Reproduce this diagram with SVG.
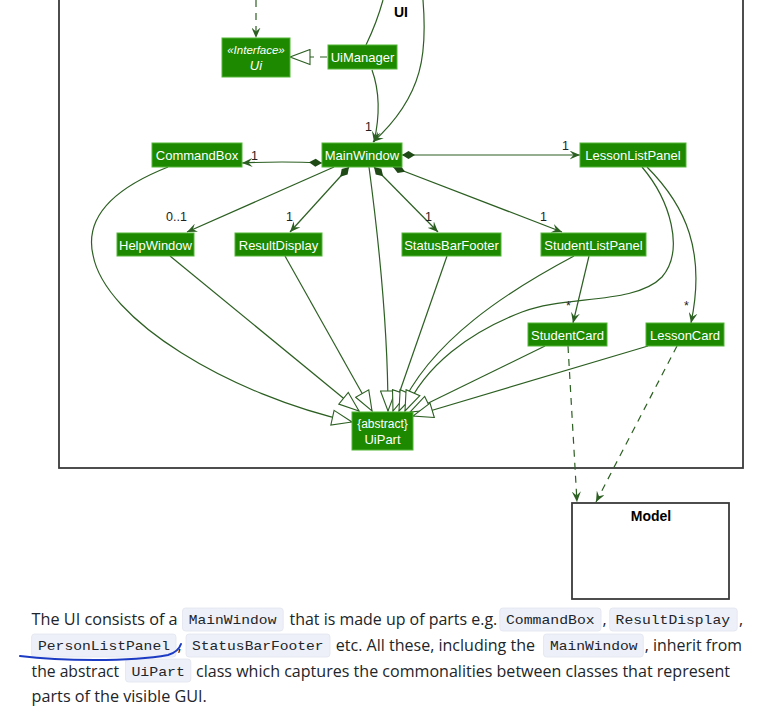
<svg xmlns="http://www.w3.org/2000/svg" width="763" height="715" viewBox="0 0 763 715">
<style>
.node rect{fill:#1D8900;stroke:#52b536;stroke-width:1}
.node text{fill:#ffffff;font-family:"Liberation Sans",Arial,sans-serif;font-size:13px;text-anchor:middle}
.ln{fill:none;stroke:#2c5f22;stroke-width:1.2}
.dash{stroke-dasharray:7,6}
.assoc{marker-end:url(#arr)}
.comp{marker-start:url(#dia);marker-end:url(#arr)}
.inh{marker-end:url(#tri)}
.lbl{fill:#222;font-family:"Liberation Sans",Arial,sans-serif;font-size:12.5px}
.pkg{fill:#fff;stroke:#3a3a3a;stroke-width:1.8}
.pkgname{fill:#000;font-family:"Liberation Sans",Arial,sans-serif;font-size:14px;font-weight:bold;text-anchor:middle}
.body{fill:#212529;font-family:"Open Sans","Liberation Sans",sans-serif;font-size:16px}
.code{fill:#212529;font-family:"Liberation Mono","DejaVu Sans Mono",monospace;font-size:13.5px}
.cbox{fill:#eef0f9;stroke:#e2e4ef;stroke-width:0.8}
</style>
<defs>
<marker id="arr" markerUnits="userSpaceOnUse" viewBox="0 0 11 9" refX="10.5" refY="4.5" markerWidth="11" markerHeight="9" orient="auto">
<path d="M0,0 L10.5,4.5 L0,9 L4,4.5 Z" fill="#2c5f22"/>
</marker>
<marker id="dia" markerUnits="userSpaceOnUse" viewBox="0 0 14 9" refX="0.5" refY="4.5" markerWidth="14" markerHeight="9" orient="auto">
<path d="M0.5,4.5 L7,0.5 L13.5,4.5 L7,8.5 Z" fill="#1f4a16"/>
</marker>
<marker id="tri" markerUnits="userSpaceOnUse" viewBox="-1 -1 22 17" refX="20" refY="7.5" markerWidth="22" markerHeight="17" orient="auto">
<path d="M0,0 L20,7.5 L0,15 Z" fill="#ffffff" stroke="#2c5f22" stroke-width="1.1"/>
</marker>
</defs>
<rect width="763" height="715" fill="#ffffff"/>

<!-- packages -->
<g id="pkg-ui">
<rect class="pkg" x="59" y="-20" width="684" height="488"/>
<text class="pkgname" x="401" y="17">UI</text>
</g>
<g id="pkg-model">
<rect class="pkg" x="572" y="503" width="157" height="96"/>
<text class="pkgname" x="651" y="521">Model</text>
</g>

<!-- connectors -->
<g id="connectors">
<path class="ln dash assoc" d="M256,0 L256,38"/>
<path class="ln" d="M383,0 Q377,22 366,45"/>
<path class="ln assoc" d="M423,0 C427,50 425,95 373,142"/>
<path class="ln assoc" d="M372,70 C381,95 379,120 374,142"/>
<path class="ln dash inh" d="M327,57 L290,57"/>

<path class="ln comp" d="M322,163 Q282,161 242,163"/>
<path class="ln comp" d="M402,155 L580,155"/>
<path class="ln assoc" d="M334,167 L187,232"/>
<path class="ln comp" d="M349,167 L290,232"/>
<path class="ln comp" d="M374,167 L438,232"/>
<path class="ln comp" d="M393,167 L562,232"/>

<path class="ln assoc" d="M589,256 L573,323"/>
<path class="ln assoc" d="M647,167 C686,206 706,252 691,323"/>

<path class="ln inh" d="M168,167 C110,190 85,220 93,255 C105,320 230,395 352,422"/>
<path class="ln inh" d="M170,256 L359,411"/>
<path class="ln inh" d="M285,256 L372,411"/>
<path class="ln inh" d="M369,167 C380,250 388,330 388,411"/>
<path class="ln inh" d="M447,256 L393,411"/>
<path class="ln inh" d="M574,256 C510,290 430,340 399,411"/>
<path class="ln inh" d="M642,167 C670,200 685,250 662,277 C635,305 565,295 522,312 C470,332 425,365 405,411"/>
<path class="ln inh" d="M545,346 L410,412"/>
<path class="ln inh" d="M648,346 L413,416"/>

<path class="ln dash assoc" d="M568,346 L577,502"/>
<path class="ln dash assoc" d="M677,346 L596,502"/>

<text class="lbl" x="365" y="131">1</text>
<text class="lbl" x="251" y="160">1</text>
<text class="lbl" x="562" y="150">1</text>
<text class="lbl" x="166" y="221">0..1</text>
<text class="lbl" x="286" y="221">1</text>
<text class="lbl" x="425" y="221">1</text>
<text class="lbl" x="540" y="221">1</text>
<text class="lbl" x="566" y="310">*</text>
<text class="lbl" x="684" y="310">*</text>
</g>

<!-- nodes -->
<g id="Ui" class="node">
<rect x="222" y="38" width="68" height="39"/>
<text x="256" y="54" font-style="italic" style="font-size:11.5px">«Interface»</text>
<text x="256" y="70" font-style="italic">Ui</text>
</g>
<g id="UiManager" class="node">
<rect x="328" y="45" width="69" height="24"/>
<text x="362.5" y="62">UiManager</text>
</g>
<g id="CommandBox" class="node">
<rect x="152" y="143" width="90" height="24"/>
<text x="197" y="160">CommandBox</text>
</g>
<g id="MainWindow" class="node">
<rect x="322" y="143" width="80" height="24"/>
<text x="362" y="160">MainWindow</text>
</g>
<g id="LessonListPanel" class="node">
<rect x="580" y="143" width="106" height="24"/>
<text x="633" y="160">LessonListPanel</text>
</g>
<g id="HelpWindow" class="node">
<rect x="117" y="233" width="77" height="23"/>
<text x="155.5" y="249.5">HelpWindow</text>
</g>
<g id="ResultDisplay" class="node">
<rect x="235" y="233" width="87" height="23"/>
<text x="278.5" y="249.5">ResultDisplay</text>
</g>
<g id="StatusBarFooter" class="node">
<rect x="402" y="233" width="99" height="23"/>
<text x="451.5" y="249.5">StatusBarFooter</text>
</g>
<g id="StudentListPanel" class="node">
<rect x="541" y="233" width="105" height="23"/>
<text x="593.5" y="249.5">StudentListPanel</text>
</g>
<g id="StudentCard" class="node">
<rect x="528" y="323" width="79" height="23"/>
<text x="567.5" y="339.5">StudentCard</text>
</g>
<g id="LessonCard" class="node">
<rect x="646" y="323" width="78" height="23"/>
<text x="685" y="339.5">LessonCard</text>
</g>
<g id="UiPart" class="node">
<rect x="352" y="412" width="61" height="38"/>
<text x="382.5" y="428" style="font-size:12px">{abstract}</text>
<text x="382.5" y="444">UiPart</text>
</g>

<!-- description text -->
<g id="description">
<rect class="cbox" x="182.5" y="608" width="100.7" height="23" rx="3"/>
<rect class="cbox" x="499.8" y="608" width="101.2" height="23" rx="3"/>
<rect class="cbox" x="609.7" y="608" width="127.5" height="23" rx="3"/>
<rect class="cbox" x="31.6" y="634" width="144.4" height="23" rx="3"/>
<rect class="cbox" x="186" y="634" width="144" height="23" rx="3"/>
<rect class="cbox" x="543.5" y="634" width="99.8" height="23" rx="3"/>
<rect class="cbox" x="125.5" y="659" width="65.3" height="23" rx="3"/>

<text class="body" x="31.6" y="625" textLength="146" lengthAdjust="spacingAndGlyphs">The UI consists of a</text>
<text class="code" x="188.8" y="624" textLength="87.6" lengthAdjust="spacingAndGlyphs">MainWindow</text>
<text class="body" x="289.5" y="625" textLength="207.8" lengthAdjust="spacingAndGlyphs">that is made up of parts e.g.</text>
<text class="code" x="506" y="624" textLength="88.7" lengthAdjust="spacingAndGlyphs">CommandBox</text>
<text class="body" x="602.5" y="625">,</text>
<text class="code" x="615.6" y="624" textLength="114.4" lengthAdjust="spacingAndGlyphs">ResultDisplay</text>
<text class="body" x="739" y="625">,</text>

<text class="code" x="38" y="650" textLength="132" lengthAdjust="spacingAndGlyphs">PersonListPanel</text>
<text class="body" x="177.5" y="651">,</text>
<text class="code" x="192" y="650" textLength="131.6" lengthAdjust="spacingAndGlyphs">StatusBarFooter</text>
<text class="body" x="335.8" y="651" textLength="199.2" lengthAdjust="spacingAndGlyphs">etc. All these, including the</text>
<text class="code" x="550" y="650" textLength="87.5" lengthAdjust="spacingAndGlyphs">MainWindow</text>
<text class="body" x="644.8" y="651" textLength="97.2" lengthAdjust="spacingAndGlyphs">, inherit from</text>

<text class="body" x="31.6" y="677" textLength="87.6" lengthAdjust="spacingAndGlyphs">the abstract</text>
<text class="code" x="131.4" y="676" textLength="53.6" lengthAdjust="spacingAndGlyphs">UiPart</text>
<text class="body" x="196" y="677" textLength="534" lengthAdjust="spacingAndGlyphs">class which captures the commonalities between classes that represent</text>

<text class="body" x="31.6" y="702" textLength="175.2" lengthAdjust="spacingAndGlyphs">parts of the visible GUI.</text>

<path d="M20,656 C60,661 130,662 168,655 C175,653 179,650 181,644" fill="none" stroke="#1c3bc4" stroke-width="2" stroke-linecap="round"/>
</g>
</svg>
